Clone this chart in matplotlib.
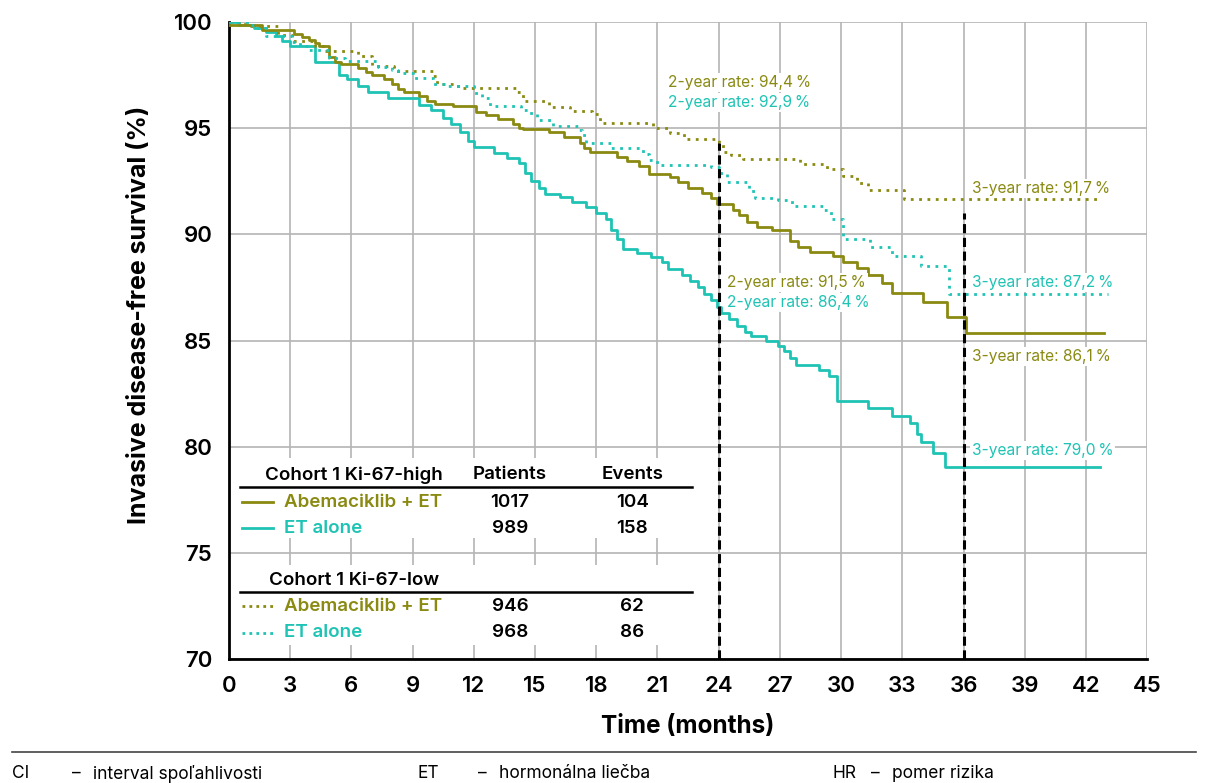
import matplotlib
matplotlib.use("Agg")
import matplotlib.pyplot as plt
from matplotlib.patches import Rectangle
from matplotlib.lines import Line2D

plt.rcParams['font.family'] = ['Inter', 'DejaVu Sans']

OLIVE = "#8a8a12"
TEAL = "#1ec3b4"

# Ki-67-high, ET alone (solid teal)
et_high_t = [0, 0.5, 1.2, 1.8, 2.3, 2.6, 3.0, 4.2, 5.4, 5.8, 6.3, 6.8, 7.8, 9.3, 9.9, 10.5,
             10.9, 11.3, 11.7, 12.0, 13.0, 13.6, 14.2, 14.5, 14.8, 15.2, 15.5, 16.2, 16.8,
             17.5, 18.0, 18.5, 18.7, 19.0, 19.3, 20.0, 20.7, 21.2, 21.5, 22.2, 22.6, 23.0,
             23.3, 23.6, 23.9, 24.1, 24.5, 24.9, 25.3, 25.6, 26.3, 26.9, 27.2, 27.5, 27.8,
             28.9, 29.4, 29.8, 31.3, 32.5, 33.4, 33.7, 33.9, 34.5, 35.1, 42.7]
et_high_s = [100, 99.85, 99.7, 99.55, 99.35, 99.1, 98.85, 98.1, 97.5, 97.3, 97.0, 96.7, 96.4,
             96.1, 95.85, 95.5, 95.2, 94.8, 94.4, 94.1, 93.85, 93.6, 93.35, 92.9, 92.5, 92.2,
             91.9, 91.75, 91.5, 91.3, 91.0, 90.7, 90.2, 89.8, 89.3, 89.1, 88.95, 88.7, 88.35,
             88.1, 87.8, 87.5, 87.2, 86.9, 86.6, 86.3, 86.0, 85.7, 85.4, 85.2, 85.0, 84.75,
             84.5, 84.2, 83.85, 83.6, 83.35, 82.15, 81.8, 81.45, 81.1, 80.6, 80.2, 79.7,
             79.05, 79.05]

# Ki-67-high, Abemaciklib + ET (solid olive)
abe_high_t = [0, 1.6, 3.2, 3.6, 3.9, 4.2, 4.4, 4.9, 5.2, 5.5, 6.3, 6.7, 7.0, 7.6, 8.0, 8.3,
              8.6, 9.3, 9.7, 10.1, 11.0, 12.1, 12.6, 13.2, 13.9, 14.2, 14.4, 15.7, 16.4, 17.2,
              17.4, 17.7, 19.0, 19.5, 20.1, 20.6, 21.6, 22.0, 22.5, 23.2, 23.6, 23.9, 24.7,
              25.0, 25.4, 25.9, 26.6, 27.5, 27.9, 28.5, 29.6, 30.1, 30.8, 31.3, 32.0, 32.5,
              34.0, 35.2, 36.1, 42.9]
abe_high_s = [99.85, 99.6, 99.45, 99.3, 99.15, 99.0, 98.85, 98.35, 98.1, 98.0, 97.85, 97.65,
              97.5, 97.3, 97.1, 96.85, 96.7, 96.5, 96.3, 96.15, 96.05, 95.75, 95.6, 95.45,
              95.2, 95.0, 94.95, 94.8, 94.6, 94.3, 94.05, 93.9, 93.65, 93.45, 93.2, 92.85,
              92.7, 92.45, 92.2, 91.95, 91.7, 91.45, 91.15, 90.9, 90.6, 90.35, 90.2, 89.7,
              89.4, 89.15, 88.97, 88.7, 88.4, 88.1, 87.7, 87.25, 86.8, 86.1, 85.35, 85.35]

# Ki-67-low, Abemaciklib + ET (dotted olive)
abe_low_t = [0, 0.8, 2.4, 3.1, 4.2, 4.7, 6.3, 7.0, 8.1, 10.0, 10.2, 11.2, 14.1, 14.4, 15.7,
             16.7, 17.8, 18.2, 20.8, 21.6, 22.3, 24.0, 24.2, 24.6, 25.2, 28.0, 29.3, 30.1,
             30.8, 31.3, 33.1, 42.8]
abe_low_s = [100, 99.8, 99.4, 99.1, 98.85, 98.65, 98.4, 97.95, 97.7, 97.45, 97.1, 96.9, 96.7,
             96.3, 96.0, 95.8, 95.65, 95.25, 95.0, 94.75, 94.5, 94.3, 93.9, 93.75, 93.55,
             93.3, 93.1, 92.75, 92.4, 92.1, 91.65, 91.65]

# Ki-67-low, ET alone (dotted teal)
et_low_t = [0, 1.0, 1.2, 1.8, 3.1, 3.5, 3.9, 4.9, 5.7, 7.3, 8.0, 8.3, 9.0, 10.0, 10.6, 12.0,
            12.4, 12.8, 14.3, 14.7, 15.1, 15.9, 17.1, 17.3, 17.5, 18.7, 20.3, 20.6, 21.0,
            23.6, 24.0, 24.4, 25.5, 25.8, 26.9, 27.6, 29.1, 29.5, 30.1, 31.4, 32.5, 33.9,
            35.3, 43.1]
et_low_s = [100, 99.85, 99.7, 99.35, 99.05, 98.85, 98.7, 98.3, 98.15, 97.9, 97.75, 97.6, 97.35,
            97.1, 96.97, 96.65, 96.4, 96.05, 95.85, 95.7, 95.4, 95.1, 94.9, 94.7, 94.3, 94.05,
            93.8, 93.5, 93.25, 93.15, 92.9, 92.45, 92.05, 91.7, 91.6, 91.35, 91.15, 90.7,
            89.8, 89.4, 89.0, 88.5, 87.2, 87.2]

# rate labels: (x, y, text, colour)
rate_labels = [
    (21.5, 97.17, "2-year rate: 94,4\u2009%", OLIVE),
    (21.5, 96.23, "2-year rate: 92,9\u2009%", TEAL),
    (24.4, 87.75, "2-year rate: 91,5\u2009%", OLIVE),
    (24.4, 86.8, "2-year rate: 86,4\u2009%", TEAL),
    (36.4, 92.18, "3-year rate: 91,7\u2009%", OLIVE),
    (36.4, 87.75, "3-year rate: 87,2\u2009%", TEAL),
    (36.4, 84.27, "3-year rate: 86,1\u2009%", OLIVE),
    (36.4, 79.8, "3-year rate: 79,0\u2009%", TEAL),
]

high_rows = [("Abemaciklib + ET", "1017", "104", OLIVE), ("ET alone", "989", "158", TEAL)]
low_rows = [("Abemaciklib + ET", "946", "62", OLIVE), ("ET alone", "968", "86", TEAL)]

fig = plt.figure(figsize=(12.08, 7.83), dpi=100)
ax = fig.add_axes([0.1896, 0.1583, 0.76, 0.8136])
ax.set_xlim(0, 45)
ax.set_ylim(70, 100)
ax.set_xticks(range(0, 46, 3))
ax.set_yticks(range(70, 101, 5))
ax.grid(True, color="#b4b4b4", lw=1.2, zorder=0)
ax.set_axisbelow(True)
for s in ["top", "right"]:
    ax.spines[s].set_visible(False)
for s in ["left", "bottom"]:
    ax.spines[s].set_linewidth(2)
ax.tick_params(length=0, pad=12, labelsize=16)
for lab in ax.get_xticklabels() + ax.get_yticklabels():
    lab.set_fontweight("semibold")
ax.set_xlabel("Time (months)", fontsize=17.5, fontweight="bold", labelpad=14)
ax.set_ylabel("Invasive disease-free survival (%)", fontsize=18, fontweight="bold")
ax.yaxis.set_label_coords(-0.085, 0.54)

ax.plot(et_high_t, et_high_s, drawstyle="steps-post", color=TEAL, lw=2, zorder=3)
ax.plot(abe_high_t, abe_high_s, drawstyle="steps-post", color=OLIVE, lw=2, zorder=3)
ax.plot(abe_low_t, abe_low_s, drawstyle="steps-post", color=OLIVE, lw=2, ls=(0, (1, 2)), zorder=3)
ax.plot(et_low_t, et_low_s, drawstyle="steps-post", color=TEAL, lw=2, ls=(0, (1, 2)), zorder=3)

ax.plot([24, 24], [70, 94.3], color="black", lw=2.2, ls=(0, (3, 1.5)), zorder=4)
ax.plot([36, 36], [70, 91.0], color="black", lw=2.2, ls=(0, (3, 1.5)), zorder=4)

for x, y, txt, c in rate_labels:
    ax.text(x, y, txt, color=c, fontsize=11.2, va="center", ha="left", zorder=5,
            bbox=dict(facecolor="white", edgecolor="none", pad=1.5))

# table panel
tr = ax.transAxes
ax.add_patch(Rectangle((0.002, 0.19), 0.52, 0.126, transform=tr, facecolor="white",
                       edgecolor="none", zorder=2))
ax.add_patch(Rectangle((0.002, 0.022), 0.52, 0.126, transform=tr, facecolor="white",
                       edgecolor="none", zorder=2))
tfs = 13.5
tw = "semibold"
ax.text(0.039, 0.289, "Cohort 1 Ki-67-high", transform=tr, fontsize=tfs, fontweight=tw, va="center", zorder=5)
ax.text(0.306, 0.289, "Patients", transform=tr, fontsize=tfs, fontweight=tw, va="center", ha="center", zorder=5)
ax.text(0.439, 0.289, "Events", transform=tr, fontsize=tfs, fontweight=tw, va="center", ha="center", zorder=5)
ax.add_line(Line2D([0.012, 0.504], [0.270, 0.270], transform=tr, color="black", lw=1.8, zorder=5))
ax.text(0.0436, 0.124, "Cohort 1 Ki-67-low", transform=tr, fontsize=tfs, fontweight=tw, va="center", zorder=5)
ax.add_line(Line2D([0.012, 0.504], [0.105, 0.105], transform=tr, color="black", lw=1.8, zorder=5))

for rows, ys, ls in [(high_rows, [0.246, 0.2057], "-"), (low_rows, [0.083, 0.041], (0, (1, 1.5)))]:
    for (name, pat, ev, c), y in zip(rows, ys):
        ax.add_line(Line2D([0.014, 0.048], [y, y], transform=tr, color=c, lw=2, ls=ls, zorder=5))
        ax.text(0.060, y, name, transform=tr, fontsize=tfs, fontweight=tw, color=c, va="center", zorder=5)
        ax.text(0.306, y, pat, transform=tr, fontsize=tfs, fontweight=tw, va="center", ha="center", zorder=5)
        ax.text(0.439, y, ev, transform=tr, fontsize=tfs, fontweight=tw, va="center", ha="center", zorder=5)

# footer
fig.add_artist(Line2D([0.01, 0.99], [0.0396, 0.0396], color="#444444", lw=1.2))
foot_y = 0.012
for x, t in [(0.010, "CI"), (0.060, "\u2013"), (0.077, "interval spoľahlivosti"),
             (0.346, "ET"), (0.396, "\u2013"), (0.413, "hormonálna liečba"),
             (0.689, "HR"), (0.721, "\u2013"), (0.738, "pomer rizika")]:
    fig.text(x, foot_y, t, fontsize=12.5, va="center", ha="left")

fig.savefig("out.png", dpi=100)
